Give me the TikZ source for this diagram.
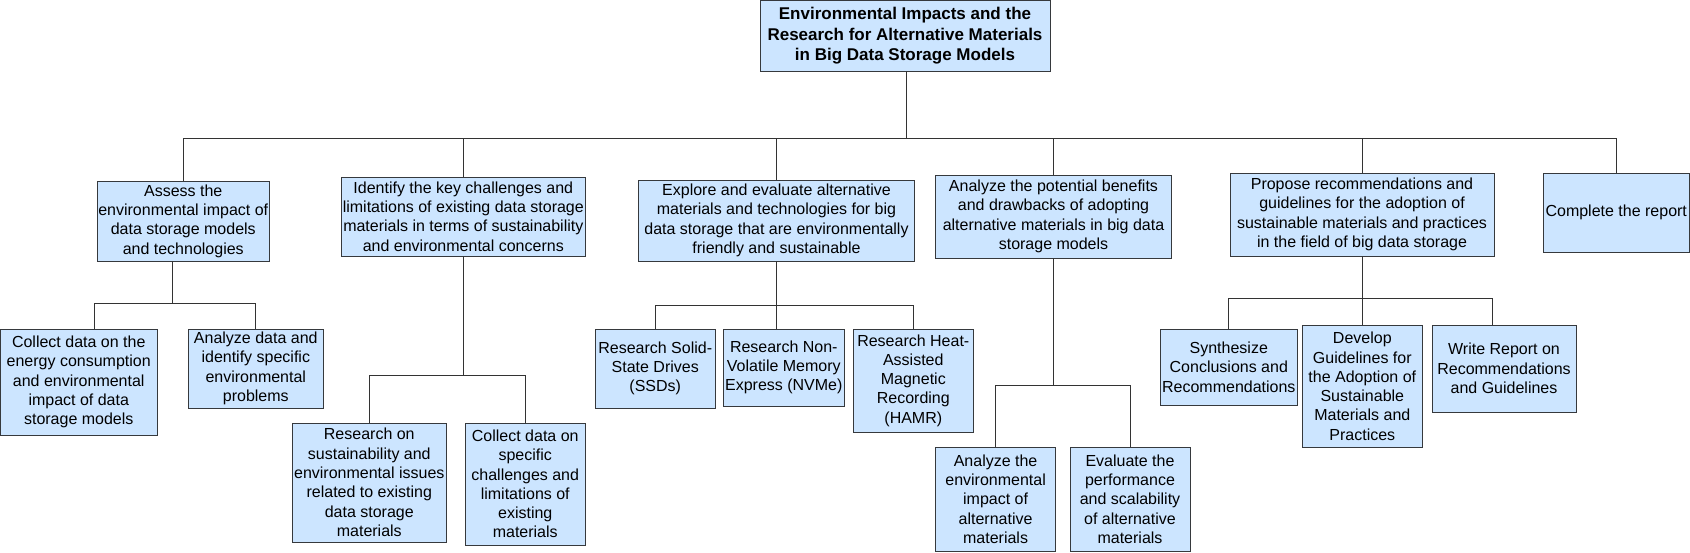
\documentclass[tikz,border=0pt]{standalone}
\usepackage{fontspec}
\setmainfont{Liberation Sans}
\usepackage{tikz}
\usetikzlibrary{positioning}
\definecolor{boxfill}{HTML}{CCE5FF}
\definecolor{boxline}{HTML}{36393D}
\colorlet{linkgray}{black!80}
\tikzset{
  box/.style={draw=boxline,fill=boxfill,line width=0.8pt,align=center,inner sep=0pt,
    font=\fontsize{16}{19.3}\selectfont},
  wh/.style 2 args={minimum width=#1pt,minimum height=#2pt},
  link/.style={draw=linkgray,line width=0.8pt}
}

\begin{document}
\begin{tikzpicture}[x=1pt,y=-1pt]
\useasboundingbox (0,0) rectangle (1690,552);
% ---- top: the title -----------------------------------------------------
\node[box,wh={290}{70.5},font=\fontsize{17}{20.5}\selectfont\bfseries] (root) at (905,35.75)
  {Environmental Impacts and the\\Research for Alternative Materials\\in Big Data Storage Models};

% ---- first row: the six tasks ------------------------------------------
\node[box,wh={171.5}{80}] (assess) at (183.25,221)
  {Assess the\\environmental impact of\\data storage models\\and technologies};
\node[box,wh={243.4}{79}] (identify) at (463.3,216.5)
  {Identify the key challenges and\\limitations of existing data storage\\materials in terms of sustainability\\and environmental concerns};
\node[box,wh={276}{81}] (explore) at (776.5,220.5)
  {Explore and evaluate alternative\\materials and technologies for big\\data storage that are environmentally\\friendly and sustainable};
\node[box,wh={236}{83}] (analyze) at (1053.5,216.5)
  {Analyze the potential benefits\\and drawbacks of adopting\\alternative materials in big data\\storage models};
\node[box,wh={264}{83}] (propose) at (1362,214.5)
  {Propose recommendations and\\guidelines for the adoption of\\sustainable materials and practices\\in the field of big data storage};
\node[box,wh={146.5}{79}] (complete) at (1616.25,212.5) {Complete the report};

% ---- second row: the sub-tasks -----------------------------------------
\node[box,wh={156.5}{106}] (collectenergy) at (78.75,382)
  {Collect data on the\\energy consumption\\and environmental\\impact of data\\storage models};
\node[box,wh={134.4}{79}] (analyzedata) at (255.8,368.5)
  {Analyze data and\\identify specific\\environmental\\problems};
\node[box,wh={153.4}{119}] (researchsust) at (369.3,482.5)
  {Research on\\sustainability and\\environmental issues\\related to existing\\data storage\\materials};
\node[box,wh={119.5}{122}] (collectspec) at (525.25,484)
  {Collect data on\\specific\\challenges and\\limitations of\\existing\\materials};
\node[box,wh={120.5}{79}] (ssd) at (655.25,368.5)
  {Research Solid-\\State Drives\\(SSDs)};
\node[box,wh={120.4}{77}] (nvme) at (783.8,367.5)
  {Research Non-\\Volatile Memory\\Express (NVMe)};
\node[box,wh={119.4}{103}] (hamr) at (913.3,380.5)
  {Research Heat-\\Assisted\\Magnetic\\Recording\\(HAMR)};
\node[box,wh={120.2}{104}] (envimpact) at (995.6,499)
  {Analyze the\\environmental\\impact of\\alternative\\materials};
\node[box,wh={120}{104}] (perf) at (1130,499)
  {Evaluate the\\performance\\and scalability\\of alternative\\materials};
\node[box,wh={137.6}{76}] (synth) at (1228.8,367)
  {Synthesize\\Conclusions and\\Recommendations};
\node[box,wh={120.6}{122.7}] (develop) at (1362.3,386.3)
  {Develop\\Guidelines for\\the Adoption of\\Sustainable\\Materials and\\Practices};
\node[box,wh={144}{87}] (writereport) at (1504,368.5)
  {Write Report on\\Recommendations\\and Guidelines};

% ---- connectors ---------------------------------------------------------
\draw[link] ([xshift=1pt]root.south) -- ++(0,67) coordinate (busroot);
\foreach \n in {assess,identify,explore,analyze,propose,complete}
  \draw[link] (busroot) -| (\n.north);
% assess
\draw[link] ([xshift=-11pt]assess.south) -- ++(0,42) coordinate (busassess);
\draw[link] (busassess) -| ([xshift=16pt]collectenergy.north);
\draw[link] (busassess) -| (analyzedata.north);
% identify
\draw[link] (identify.south) -- ++(0,119) coordinate (busidentify);
\draw[link] (busidentify) -| (researchsust.north);
\draw[link] (busidentify) -| (collectspec.north);
% explore
\draw[link] (explore.south) -- ++(0,44) coordinate (busexplore);
\draw[link] (busexplore) -| (ssd.north);
\draw[link] (busexplore) -| ([xshift=-7pt]nvme.north);
\draw[link] (busexplore) -| (hamr.north);
% analyze
\draw[link] (analyze.south) -- ++(0,127) coordinate (busanalyze);
\draw[link] (busanalyze) -| (envimpact.north);
\draw[link] (busanalyze) -| (perf.north);
% propose
\draw[link] (propose.south) -- ++(0,42) coordinate (buspropose);
\draw[link] (buspropose) -| (synth.north);
\draw[link] (buspropose) -| (develop.north);
\draw[link] (buspropose) -| ([xshift=-11.4pt]writereport.north);
\end{tikzpicture}
\end{document}
